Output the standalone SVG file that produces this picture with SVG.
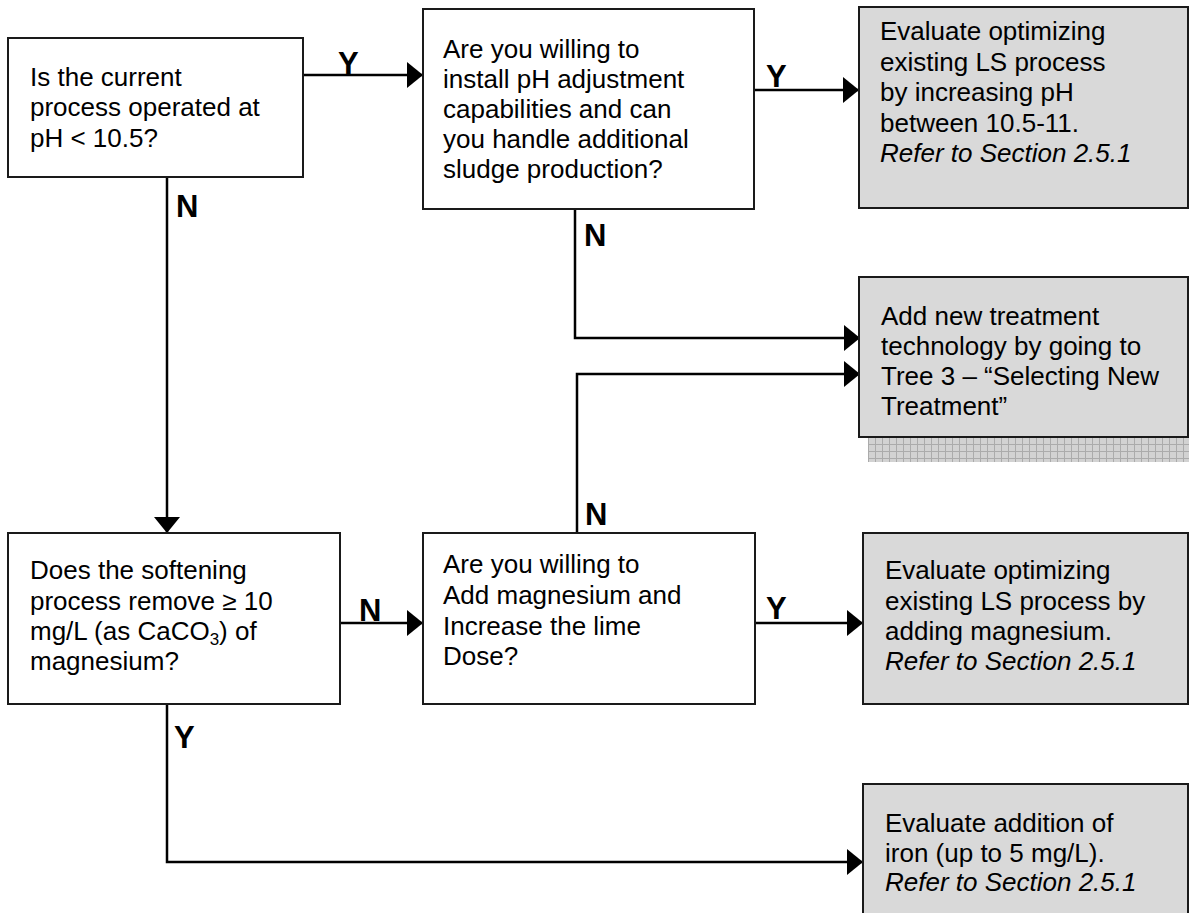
<svg xmlns="http://www.w3.org/2000/svg" width="1189" height="913" viewBox="0 0 1189 913">
<style>
.box{fill:#ffffff;stroke:#1a1a1a;stroke-width:2}
.gbox{fill:#d9d9d9;stroke:#1a1a1a;stroke-width:2}
.t{font-family:"Liberation Sans",Arial,sans-serif;font-size:26px;fill:#000}
.i{font-style:italic}
.lbl{font-family:"Liberation Sans",Arial,sans-serif;font-size:31px;font-weight:bold;fill:#000}
.c{fill:none;stroke:#000;stroke-width:2.5}
</style>
<defs>
<marker id="ah" markerUnits="userSpaceOnUse" markerWidth="18" markerHeight="28" refX="16" refY="13" orient="auto">
<path d="M0,0 L16,13 L0,26 z" fill="#000"/>
</marker>
<pattern id="grid" width="7" height="7" patternUnits="userSpaceOnUse" x="868" y="437">
<rect width="7" height="7" fill="#d2d2d2"/>
<path d="M0,0.5 H7 M0.5,0 V7" stroke="#ababab" stroke-width="1"/>
</pattern>
</defs>
<rect width="1189" height="913" fill="#fff"/>

<g id="connectors">
<path class="c" d="M303,75 H423" marker-end="url(#ah)"/>
<path class="c" d="M754,90 H859" marker-end="url(#ah)"/>
<path class="c" d="M167,177 V533" marker-end="url(#ah)"/>
<path class="c" d="M575,209 V338 H860" marker-end="url(#ah)"/>
<path class="c" d="M577,533 V374 H860" marker-end="url(#ah)"/>
<path class="c" d="M340,623 H423" marker-end="url(#ah)"/>
<path class="c" d="M755,623 H863" marker-end="url(#ah)"/>
<path class="c" d="M167,704 V862 H863" marker-end="url(#ah)"/>
<text class="lbl" x="338" y="74">Y</text>
<text class="lbl" x="766" y="87">Y</text>
<text class="lbl" x="176" y="217">N</text>
<text class="lbl" x="584" y="246">N</text>
<text class="lbl" x="359" y="621">N</text>
<text class="lbl" x="585" y="525">N</text>
<text class="lbl" x="766" y="619">Y</text>
<text class="lbl" x="174" y="748">Y</text>
</g>

<g id="q1">
<rect class="box" x="8" y="38" width="295" height="139"/>
<text class="t" x="30" y="86">Is the current</text>
<text class="t" x="30" y="116">process operated at</text>
<text class="t" x="30" y="147">pH &lt; 10.5?</text>
</g>

<g id="q2">
<rect class="box" x="423" y="9" width="331" height="200"/>
<text class="t" x="443" y="58">Are you willing to</text>
<text class="t" x="443" y="88">install pH adjustment</text>
<text class="t" x="443" y="118">capabilities and can</text>
<text class="t" x="443" y="148">you handle additional</text>
<text class="t" x="443" y="178">sludge production?</text>
</g>

<g id="r1">
<rect class="gbox" x="859" y="7" width="329" height="201"/>
<text class="t" x="880" y="40">Evaluate optimizing</text>
<text class="t" x="880" y="71">existing LS process</text>
<text class="t" x="880" y="101">by increasing pH</text>
<text class="t" x="880" y="132">between 10.5-11.</text>
<text class="t i" x="880" y="162">Refer to Section 2.5.1</text>
</g>

<g id="r2">
<rect x="868" y="437" width="321" height="25" fill="url(#grid)"/>
<rect class="gbox" x="859" y="277" width="329" height="160"/>
<text class="t" x="881" y="325">Add new treatment</text>
<text class="t" x="881" y="355">technology by going to</text>
<text class="t" x="881" y="385">Tree 3 – “Selecting New</text>
<text class="t" x="881" y="415">Treatment”</text>
</g>

<g id="q3">
<rect class="box" x="8" y="533" width="332" height="171"/>
<text class="t" x="30" y="579">Does the softening</text>
<text class="t" x="30" y="610">process remove ≥ 10</text>
<text class="t" x="30" y="640">mg/L (as CaCO<tspan font-size="17" dy="5">3</tspan><tspan dy="-5">) of</tspan></text>
<text class="t" x="30" y="670">magnesium?</text>
</g>

<g id="q4">
<rect class="box" x="423" y="533" width="332" height="171"/>
<text class="t" x="443" y="573">Are you willing to</text>
<text class="t" x="443" y="604">Add magnesium and</text>
<text class="t" x="443" y="635">Increase the lime</text>
<text class="t" x="443" y="665">Dose?</text>
</g>

<g id="r3">
<rect class="gbox" x="863" y="533" width="325" height="171"/>
<text class="t" x="885" y="579">Evaluate optimizing</text>
<text class="t" x="885" y="610">existing LS process by</text>
<text class="t" x="885" y="640">adding magnesium.</text>
<text class="t i" x="885" y="670">Refer to Section 2.5.1</text>
</g>

<g id="r4">
<rect class="gbox" x="863" y="784" width="325" height="140"/>
<text class="t" x="885" y="832">Evaluate addition of</text>
<text class="t" x="885" y="862">iron (up to 5 mg/L).</text>
<text class="t i" x="885" y="891">Refer to Section 2.5.1</text>
</g>
</svg>
